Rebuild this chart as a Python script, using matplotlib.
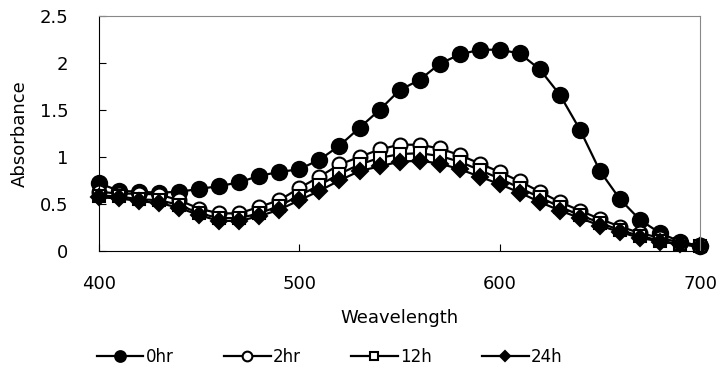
import matplotlib
matplotlib.use('Agg')
import matplotlib.pyplot as plt
import numpy as np

plt.rcParams['font.family'] = ['DejaVu Sans']

wavelength = list(range(400, 701, 10))

abs_0hr = [0.72, 0.64, 0.63, 0.62, 0.63, 0.66, 0.69, 0.73, 0.80, 0.84, 0.87,
           0.97, 1.12, 1.31, 1.50, 1.71, 1.82, 1.99, 2.09, 2.14, 2.14,
           2.10, 1.93, 1.66, 1.29, 0.85, 0.55, 0.33, 0.19, 0.10, 0.05]
abs_2hr = [0.63, 0.61, 0.61, 0.60, 0.54, 0.45, 0.40, 0.40, 0.47, 0.54, 0.67,
           0.79, 0.92, 1.00, 1.08, 1.13, 1.13, 1.09, 1.02, 0.93, 0.84,
           0.74, 0.63, 0.52, 0.43, 0.34, 0.26, 0.19, 0.14, 0.09, 0.06]
abs_12h = [0.59, 0.58, 0.55, 0.54, 0.49, 0.40, 0.35, 0.35, 0.40, 0.48, 0.59,
           0.70, 0.82, 0.92, 0.99, 1.03, 1.04, 1.01, 0.95, 0.86, 0.77,
           0.67, 0.57, 0.47, 0.38, 0.30, 0.22, 0.16, 0.11, 0.07, 0.05]
abs_24h = [0.57, 0.56, 0.53, 0.51, 0.46, 0.38, 0.32, 0.32, 0.37, 0.44, 0.54,
           0.64, 0.75, 0.85, 0.90, 0.95, 0.96, 0.93, 0.87, 0.79, 0.71,
           0.62, 0.52, 0.43, 0.35, 0.27, 0.20, 0.14, 0.10, 0.07, 0.05]

series = [
    ('0hr', abs_0hr, 'o', 'black', 11),
    ('2hr', abs_2hr, 'o', 'white', 10),
    ('12h', abs_12h, 's', 'white', 9),
    ('24h', abs_24h, 'D', 'black', 8),
]

fig = plt.figure(figsize=(7.2, 3.78), dpi=100)
ax = fig.add_axes([0.1375, 0.336, 0.835, 0.622])

# excel order: later series drawn over earlier ones
for name, vals, mk, fc, ms in series:
    ax.plot(wavelength, vals, color='black', lw=1.6, marker=mk, ms=ms,
            mfc=fc, mec='black', mew=1.5, label=name, clip_on=False)

ax.set_xlim(400, 700)
ax.set_ylim(0, 2.5)
ax.set_xticks([400, 500, 600, 700])
ax.set_yticks([0, 0.5, 1, 1.5, 2, 2.5])
ax.set_yticklabels(['0', '0.5', '1', '1.5', '2', '2.5'])
ax.tick_params(direction='in', length=5, labelsize=13)
ax.tick_params(axis='x', pad=17)
ax.tick_params(axis='y', pad=22)
ax.spines['top'].set_color('#888888')
ax.spines['right'].set_color('#888888')
ax.set_xlabel('Weavelength', fontsize=13, labelpad=12)
ax.set_ylabel('Absorbance', fontsize=13, labelpad=8)

leg = fig.legend(loc='center', bbox_to_anchor=(0.458, 0.055), ncol=4,
                 frameon=False, fontsize=12, handlelength=2.8,
                 columnspacing=3.0, handletextpad=0.15, markerscale=0.7)

fig.savefig('out.png', dpi=100)
